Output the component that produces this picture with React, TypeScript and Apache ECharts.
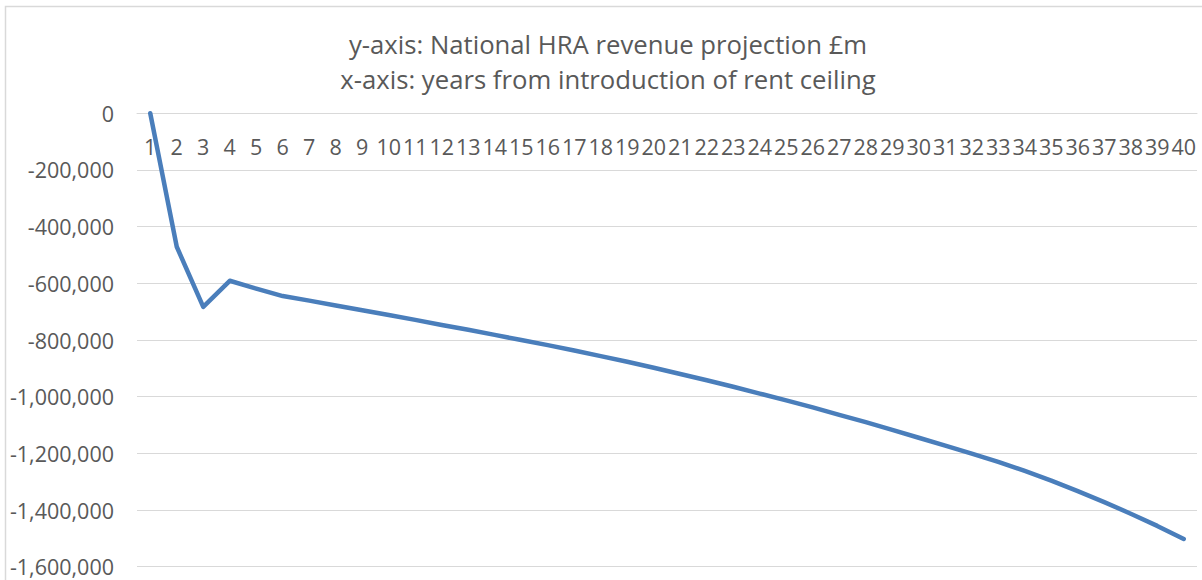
import React, { useEffect, useRef } from "react";
import * as echarts from "echarts";

const titleLines = [
  "y-axis: National HRA revenue projection £m",
  "x-axis: years from introduction of rent ceiling",
];

const years = Array.from({ length: 40 }, (_, i) => String(i + 1));

const revenue = [
  0, -471000, -683000, -591000, -619000, -645000, -661000, -678000, -695000, -712000,
  -729000, -747000, -764000, -782000, -800000, -818000, -837000, -857000, -877000, -898000,
  -920000, -942000, -965000, -989000, -1013000, -1038000, -1064000, -1090000, -1117000, -1145000,
  -1173000, -1201000, -1230000, -1262000, -1296000, -1333000, -1372000, -1413000, -1456000, -1502000,
];

const yMin = -1600000;
const yMax = 0;
const yStep = 200000;

const FONT = "'Open Sans', sans-serif";
const TEXT = "#595959";
const GRID = "#d9d9d9";

export default function App() {
  const ref = useRef<HTMLDivElement>(null);
  useEffect(() => {
    if (!ref.current) return;
    const chart = echarts.init(ref.current, undefined, { renderer: "svg" });
    chart.setOption({
      animation: false,
      backgroundColor: "#ffffff",
      graphic: [
        {
          type: "rect",
          shape: { x: 5.5, y: 6.5, width: 1230, height: 620 },
          style: { fill: "none", stroke: GRID, lineWidth: 1.5 },
          silent: true,
          z: -10,
        },
        {
          type: "text",
          x: 608,
          y: 27,
          style: {
            text: titleLines.join("\n"),
            font: `25.7px ${FONT}`,
            fill: TEXT,
            align: "center",
            verticalAlign: "top",
            lineHeight: 35,
          },
        },
      ],
      grid: { left: 137, right: 5, top: 113.3, bottom: 13.3, containLabel: false },
      xAxis: {
        type: "category",
        position: "top",
        data: years,
        boundaryGap: true,
        axisLine: { show: true, lineStyle: { color: GRID, width: 1 } },
        axisTick: { show: false },
        axisLabel: {
          inside: true,
          interval: 0,
          margin: 22,
          color: TEXT,
          fontFamily: FONT,
          fontSize: 21.5,
        },
        splitLine: { show: false },
      },
      yAxis: {
        type: "value",
        min: yMin,
        max: yMax,
        interval: yStep,
        axisLine: { show: false },
        axisTick: { show: false },
        axisLabel: {
          margin: 23,
          color: TEXT,
          fontFamily: FONT,
          fontSize: 21.5,
          formatter: (v: number) => v.toLocaleString("en-US"),
        },
        splitLine: { lineStyle: { color: GRID, width: 1 } },
      },
      series: [
        {
          type: "line",
          data: revenue,
          symbol: "none",
          lineStyle: { color: "#4A7EBB", width: 4.5, cap: "round", join: "round" },
        },
      ],
    });
    return () => chart.dispose();
  }, []);
  return (
    <div
      ref={ref}
      style={{ position: "absolute", left: 0, top: 0, width: 1202, height: 580 }}
    />
  );
}
